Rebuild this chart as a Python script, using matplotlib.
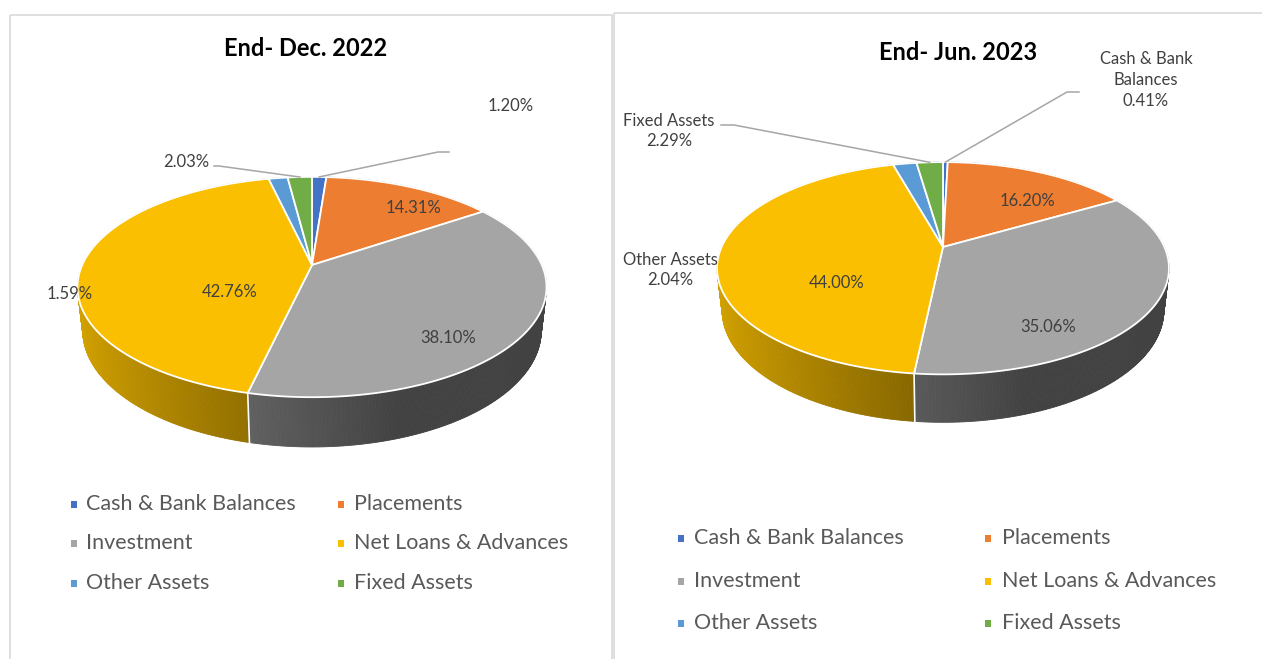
import numpy as np
import matplotlib.pyplot as plt
from matplotlib.patches import Polygon, Rectangle
from matplotlib.collections import PolyCollection
from matplotlib.colors import to_rgb

# Daten (Anteile in %)
categories = ['Cash & Bank Balances', 'Placements', 'Investment',
              'Net Loans & Advances', 'Other Assets', 'Fixed Assets']
dec_2022 = [1.20, 14.31, 38.10, 42.76, 1.59, 2.03]
jun_2023 = [0.41, 16.20, 35.06, 44.00, 2.04, 2.29]
colors = ['#4472C4', '#ED7D31', '#A5A5A5', '#FABF00', '#5B9BD5', '#70AD47']

plt.rcParams['font.family'] = ['Lato', 'DejaVu Sans']

# Perspektive fuer den 3D-Kuchen
TILT = np.radians(27.4)
DIST = 4.44
THICK = 0.215
LABEL_COLOR = '#404040'
LINE_COLOR = '#A6A6A6'


def project(cx, cy, R, th, z=0.0):
    X = np.cos(th)
    Y = np.sin(th)
    yv = Y * np.sin(TILT) + z * np.cos(TILT)
    d = Y * np.cos(TILT) - z * np.sin(TILT)
    s = DIST / (DIST + d)
    return cx + R * X * s, cy - R * yv * s, d


def shade(color, th):
    X = np.cos(th)
    f = 0.40 + 0.46 * np.clip((0.3 - X) / 1.3, 0, 1)
    r, g, b = to_rgb(color)
    return (r * f, g * f, b * f)


def edges_of(values):
    total = sum(values)
    cum = np.concatenate([[0], np.cumsum(values)]) / total
    return np.radians(90 - 360 * cum)


def draw_pie(ax, values, cx, cy, R):
    edges = edges_of(values)
    walls = []
    for i, col in enumerate(colors):
        t0, t1 = edges[i], edges[i + 1]
        n = max(2, int(abs(np.degrees(t1 - t0)) / 0.5))
        ts = np.linspace(t0, t1, n + 1)
        for a, b in zip(ts[:-1], ts[1:]):
            xa, ya, da = project(cx, cy, R, a)
            xb, yb, db = project(cx, cy, R, b)
            xc, yc, dc = project(cx, cy, R, b, -THICK)
            xd, yd, dd = project(cx, cy, R, a, -THICK)
            depth = (da + db + dc + dd) / 4
            walls.append((depth, [(xa, ya), (xb, yb), (xc, yc), (xd, yd)],
                          shade(col, (a + b) / 2)))
    walls.sort(key=lambda w: -w[0])
    wc = [w[2] for w in walls]
    ax.add_collection(PolyCollection([w[1] for w in walls], facecolors=wc,
                                     edgecolors=wc, linewidths=0.6))
    # weisse Trennlinien an der Seitenwand
    k = 1 / (DIST * np.cos(TILT))
    for t in edges[:-1]:
        if np.sin(t) < -k:
            x1, y1, _ = project(cx, cy, R, t)
            x2, y2, _ = project(cx, cy, R, t, -THICK)
            ax.plot([x1, x2], [y1, y2], color='white', lw=1.2)
    # Deckflaeche
    for i, col in enumerate(colors):
        ts = np.linspace(edges[i], edges[i + 1], 200)
        xs, ys, _ = project(cx, cy, R, ts)
        pts = [(cx, cy)] + list(zip(xs, ys))
        ax.add_patch(Polygon(pts, closed=True, facecolor=col, edgecolor='white',
                             lw=1.3, joinstyle='round'))
    return edges


def leader(ax, edges, idx, cx, cy, R, elbow, end):
    mid = (edges[idx] + edges[idx + 1]) / 2
    px, py, _ = project(cx, cy, R, mid)
    ax.plot([end[0], elbow[0], px], [end[1], elbow[1], py],
            color=LINE_COLOR, lw=1.1)


def legend(ax, mark_x, text_x, row_y):
    for i, name in enumerate(categories):
        r, c = i // 2, i % 2
        ax.add_patch(Rectangle((mark_x[c], row_y[r] - 3.5), 6, 7,
                               facecolor=colors[i], edgecolor='none'))
        ax.text(text_x[c], row_y[r], name, fontsize=15.5, color='#595959',
                ha='left', va='center')


fig = plt.figure(figsize=(12.62, 6.59), dpi=100)
ax = fig.add_axes([0, 0, 1, 1])
ax.set_xlim(0, 1262)
ax.set_ylim(659, 0)
ax.axis('off')

# Rahmen der beiden Diagramme
ax.add_patch(Rectangle((10, 15), 602, 660, fill=False, edgecolor='#D9D9D9', lw=1.2))
ax.add_patch(Rectangle((614, 13), 660, 660, fill=False, edgecolor='#D9D9D9', lw=1.2))

fs = 12
ls = 1.38

# --- End- Dec. 2022 ---
cx, cy, R = 312, 265, 229.8
e1 = draw_pie(ax, dec_2022, cx, cy, R)
ax.text(306, 48, 'End- Dec. 2022', ha='center', va='center', fontsize=17,
        fontweight='bold', color='black')
ax.text(511, 106, f'{dec_2022[0]:.2f}%', ha='center', va='center', fontsize=fs, color=LABEL_COLOR)
leader(ax, e1, 0, cx, cy, R, (438, 152), (449, 152))
ax.text(413, 208, f'{dec_2022[1]:.2f}%', ha='center', va='center', fontsize=fs, color=LABEL_COLOR)
ax.text(448, 338, f'{dec_2022[2]:.2f}%', ha='center', va='center', fontsize=fs, color=LABEL_COLOR)
ax.text(230, 292, f'{dec_2022[3]:.2f}%', ha='center', va='center', fontsize=fs, color=LABEL_COLOR)
ax.text(70, 294, f'{dec_2022[4]:.2f}%', ha='center', va='center', fontsize=fs, color=LABEL_COLOR)
ax.text(186, 162, f'{dec_2022[5]:.2f}%', ha='center', va='center', fontsize=fs, color=LABEL_COLOR)
leader(ax, e1, 5, cx, cy, R, (219, 166), (214, 166))
legend(ax, [71, 338], [86, 354], [504, 543, 583])

# --- End- Jun. 2023 ---
cx, cy, R = 943, 247, 221.4
e2 = draw_pie(ax, jun_2023, cx, cy, R)
ax.text(958, 52, 'End- Jun. 2023', ha='center', va='center', fontsize=17,
        fontweight='bold', color='black')
ax.text(1146, 80, f'Cash & Bank\nBalances\n{jun_2023[0]:.2f}%', ha='center', va='center',
        fontsize=fs, color=LABEL_COLOR, linespacing=ls)
leader(ax, e2, 0, cx, cy, R, (1067, 92), (1079, 92))
ax.text(1027, 201, f'{jun_2023[1]:.2f}%', ha='center', va='center', fontsize=fs, color=LABEL_COLOR)
ax.text(1048, 327, f'{jun_2023[2]:.2f}%', ha='center', va='center', fontsize=fs, color=LABEL_COLOR)
ax.text(837, 283, f'{jun_2023[3]:.2f}%', ha='center', va='center', fontsize=fs, color=LABEL_COLOR)
ax.text(670, 270, f'Other Assets\n{jun_2023[4]:.2f}%', ha='center', va='center',
        fontsize=fs, color=LABEL_COLOR, linespacing=ls)
ax.text(669, 131, f'Fixed Assets\n{jun_2023[5]:.2f}%', ha='center', va='center',
        fontsize=fs, color=LABEL_COLOR, linespacing=ls)
leader(ax, e2, 5, cx, cy, R, (734, 125), (721, 125))
legend(ax, [678, 985], [694, 1002], [538, 581, 623])

plt.savefig('out.png', dpi=100)
